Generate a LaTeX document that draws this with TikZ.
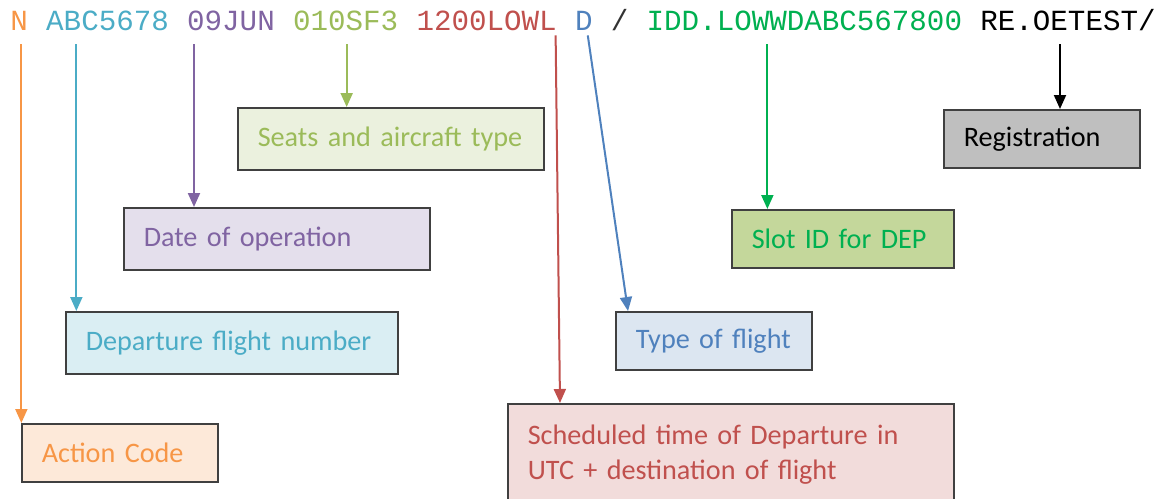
\documentclass[tikz,border=0pt]{standalone}
\usepackage{fontspec}
\setmainfont{Carlito}
\newfontfamily\codefont{Liberation Mono}
\usetikzlibrary{positioning}
\usetikzlibrary{arrows.meta}
\definecolor{acorange}{HTML}{F79646}
\definecolor{acfill}{HTML}{FDE9D9}
\definecolor{flcyan}{HTML}{4BACC6}
\definecolor{flfill}{HTML}{DAEEF3}
\definecolor{dtpurple}{HTML}{8064A2}
\definecolor{dtfill}{HTML}{E4DFEC}
\definecolor{stgreen}{HTML}{9BBB59}
\definecolor{stfill}{HTML}{EBF1DE}
\definecolor{schred}{HTML}{C0504D}
\definecolor{schfill}{HTML}{F2DCDB}
\definecolor{tyblue}{HTML}{4F81BD}
\definecolor{tyfill}{HTML}{DCE6F1}
\definecolor{slgreen}{HTML}{00B050}
\definecolor{slfill}{HTML}{C4D79B}
\definecolor{regfill}{HTML}{BFBFBF}
\def\mygap{8.75pt}
\def\mydrop{7pt}
\tikzset{
semithick, % thin lines everywhere
>={Triangle[length=7pt,width=6pt]}, % filled triangle tips
tok/.style={inner sep=0pt,text depth=0pt,font=\codefont\fontsize{14.6}{17}\selectfont},
field/.style={draw=black!75,line width=0.75pt,anchor=north west,align=left,
  inner xsep=10pt,inner ysep=0pt,font=\fontsize{14.1}{17.5}\selectfont,
  execute at begin node={\hyphenpenalty=10000\exhyphenpenalty=10000}},
pointer/.style={->,line width=1pt},
}
\begin{document}
\begin{tikzpicture}[x=0.5pt,y=-0.5pt]
\useasboundingbox (0,0) rectangle (1155,498);
\clip (0,0) rectangle (1155,498);

% the message line
\node[tok,acorange,anchor=base west] (tn) at (10,30) {N};
\node[tok,flcyan,base right=\mygap of tn] (ta) {ABC5678};
\node[tok,dtpurple,base right=\mygap of ta] (tj) {09JUN};
\node[tok,stgreen,base right=\mygap of tj] (ts) {010SF3};
\node[tok,schred,base right=\mygap of ts] (tl) {1200LOWL};
\node[tok,tyblue,base right=\mygap of tl] (td) {D};
\node[tok,black!80,base right=\mygap of td] (tsl) {/};
\node[tok,slgreen,base right=\mygap of tsl] (ti) {IDD.LOWWDABC567800};
\node[tok,black,base right=\mygap of ti] (tr) {RE.OETEST/};

% the boxes
\node[field,fill=stfill,text=stgreen,text width=133pt,minimum height=31pt] (seats) at (237,107) {Seats and aircraft type};
\node[field,fill=regfill,text=black,text width=78pt,minimum height=29pt] (reg) at (943,109) {Registration};
\node[field,fill=dtfill,text=dtpurple,text width=133pt,minimum height=31pt] (date) at (123,207) {Date of operation};
\node[field,fill=slfill,text=slgreen,text width=91pt,minimum height=29pt] (slot) at (731,209) {Slot ID for DEP};
\node[field,fill=flfill,text=flcyan,text width=146pt,minimum height=31pt] (dep) at (65,311) {Departure flight number};
\node[field,fill=tyfill,text=tyblue,text width=78pt,minimum height=29pt] (type) at (615,311) {Type of flight};
\node[field,fill=acfill,text=acorange,text width=78pt,minimum height=29pt] (action) at (21,423) {Action Code};
\node[field,fill=schfill,text=schred,text width=203pt,minimum height=51pt] (sched) at (507,403) {Scheduled time of Departure in\\UTC + destination of flight};

% where the pointers leave the line
\coordinate (pn) at ([xshift=1.1pt,yshift=-\mydrop]tn.south);
\coordinate (pa) at ([xshift=-15.6pt,yshift=-\mydrop]ta.south);
\coordinate (pj) at ([xshift=-18.5pt,yshift=-\mydrop]tj.south);
\coordinate (ps) at ([xshift=0.5pt,yshift=-\mydrop]ts.south);
\coordinate (pi) at ([xshift=-18.5pt,yshift=-\mydrop]ti.south);
\coordinate (pr) at ([xshift=-4pt,yshift=-\mydrop]tr.south);

% pointers
\draw[pointer,acorange] (pn) -- (pn |- action.north);
\draw[pointer,flcyan] (pa) -- (pa |- dep.north);
\draw[pointer,dtpurple] (pj) -- (pj |- date.north);
\draw[pointer,stgreen] (ps) -- (ps |- seats.north);
\draw[pointer,schred] ([xshift=-0.75pt,yshift=-2.5pt]tl.south east) -- ([xshift=26.5pt]sched.north west);
\draw[pointer,tyblue] ([xshift=2pt,yshift=-2.5pt]td.south) -- ([xshift=6.5pt]type.north west);
\draw[pointer,slgreen] (pi) -- (pi |- slot.north);
\draw[pointer,black] (pr) -- (pr |- reg.north);
\end{tikzpicture}
\end{document}
